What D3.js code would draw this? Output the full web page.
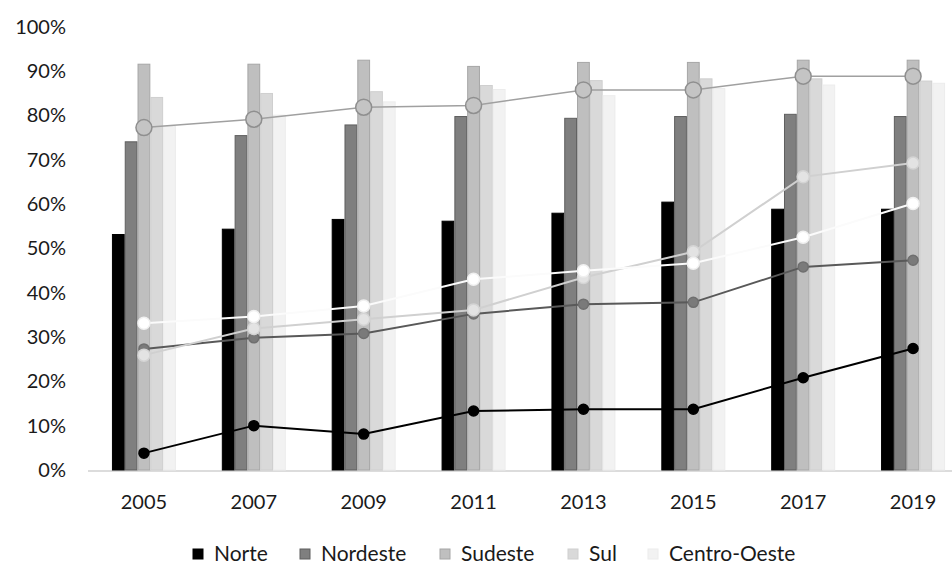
<!DOCTYPE html>
<html lang="pt">
<head>
<meta charset="utf-8">
<title>Regiões</title>
<script src="https://d3js.org/d3.v7.min.js"></script>
<style>
  body { margin: 0; background: #fff; }
  text { font-family: Lato, "Open Sans", sans-serif; fill: #1a1a1a; }
</style>
</head>
<body>
<svg id="chart" width="952" height="567"></svg>
<script>
const years = ["2005", "2007", "2009", "2011", "2013", "2015", "2017", "2019"];
const regions = ["Norte", "Nordeste", "Sudeste", "Sul", "Centro-Oeste"];

// bar values (%)
const barNorte    = [53.1, 54.3, 56.5, 56.1, 57.9, 60.4, 58.8, 58.8];
const barNordeste = [74.0, 75.4, 77.8, 79.7, 79.3, 79.7, 80.2, 79.7];
const barSudeste  = [91.5, 91.5, 92.4, 91.0, 91.9, 91.9, 92.4, 92.4];
const barSul      = [84.0, 84.9, 85.3, 86.7, 87.8, 88.2, 88.2, 87.7];
const barCentro   = [77.5, 80.0, 83.0, 85.8, 84.4, 86.0, 86.8, 87.2];

// line values (%)
const lineNorte    = [3.8, 10.0, 8.1, 13.3, 13.7, 13.7, 20.8, 27.4];
const lineNordeste = [27.3, 29.8, 30.8, 35.2, 37.4, 37.8, 45.8, 47.3];
const lineSudeste  = [77.2, 79.1, 81.8, 82.2, 85.7, 85.7, 88.8, 88.8];
const lineSul      = [25.9, 31.9, 34.0, 36.1, 43.4, 49.2, 66.1, 69.2];
const lineCentro   = [33.1, 34.6, 37.0, 43.0, 44.9, 46.6, 52.5, 60.1];

const bars = [barNorte, barNordeste, barSudeste, barSul, barCentro];
const lines = [lineNorte, lineNordeste, lineSudeste, lineSul, lineCentro];

const fills   = ["#000000", "#7f7f7f", "#bfbfbf", "#d9d9d9", "#f2f2f2"];
const strokes = ["#000000", "#5f5f5f", "#a6a6a6", "#cfcfcf", "#ececec"];
const lineCol = ["#000000", "#595959", "#a0a0a0", "#d0d0d0", "#fbfbfb"];
const dotFill = ["#000000", "#7a7a7a", "#c4c4c4", "#e3e3e3", "#ffffff"];
const dotLine = ["#000000", "#6f6f6f", "#8f8f8f", "#d4d4d4", "#f0f0f0"];
const dotR    = [5, 5, 8, 6, 6];

const svg = d3.select("#chart");

const x0 = d3.scaleBand().domain(years).range([89, 968])
  .paddingInner(0.4176).paddingOuter(0.2088);
const x1 = d3.scaleBand().domain(regions).range([0, x0.bandwidth()]);
const y = d3.scaleLinear().domain([0, 100]).range([470, 26.5]);

// y labels
svg.append("g").selectAll("text")
  .data(d3.range(0, 101, 10))
  .join("text")
  .attr("x", 66).attr("y", d => y(d))
  .attr("dy", "0.35em")
  .attr("text-anchor", "end")
  .style("font-size", "20px")
  .text(d => d + "%");

// baseline
svg.append("line")
  .attr("x1", 88).attr("x2", 952)
  .attr("y1", y(0) + 1).attr("y2", y(0) + 1)
  .attr("stroke", "#d0d0d0").attr("stroke-width", 1.5);

// bars
regions.forEach((r, i) => {
  svg.append("g").selectAll("rect")
    .data(bars[i])
    .join("rect")
    .attr("x", (d, j) => x0(years[j]) + x1(r) + 0.5)
    .attr("y", d => y(d))
    .attr("width", x1.bandwidth() - 1)
    .attr("height", d => y(0) - y(d))
    .attr("fill", fills[i])
    .attr("stroke", strokes[i])
    .attr("stroke-width", 1);
});

// lines
const cx = yr => x0(yr) + x0.bandwidth() / 2;
regions.forEach((r, i) => {
  const pts = lines[i].map((v, j) => [cx(years[j]), y(v)]);
  svg.append("path")
    .attr("d", d3.line()(pts))
    .attr("fill", "none")
    .attr("stroke", lineCol[i])
    .attr("stroke-width", i === 2 ? 1.5 : 2);
  svg.append("g").selectAll("circle")
    .data(pts)
    .join("circle")
    .attr("cx", d => d[0]).attr("cy", d => d[1])
    .attr("r", dotR[i])
    .attr("fill", dotFill[i])
    .attr("stroke", dotLine[i])
    .attr("stroke-width", 1.5);
});

// x labels
svg.append("g").selectAll("text")
  .data(years)
  .join("text")
  .attr("x", d => cx(d)).attr("y", 502)
  .attr("dy", "0.35em")
  .attr("text-anchor", "middle")
  .style("font-size", "20px")
  .text(d => d);

// legend
const legX = [193, 300, 440, 568, 648];
const leg = svg.append("g").selectAll("g")
  .data(regions)
  .join("g")
  .attr("transform", (d, i) => `translate(${legX[i]},553)`);
leg.append("rect")
  .attr("x", 0).attr("y", -4).attr("width", 10).attr("height", 10)
  .attr("fill", (d, i) => fills[i])
  .attr("stroke", (d, i) => strokes[i]);
leg.append("text")
  .attr("x", 21)
  .attr("y", 1).attr("dy", "0.35em")
  .style("font-size", "21px")
  .text(d => d);
</script>
</body>
</html>
